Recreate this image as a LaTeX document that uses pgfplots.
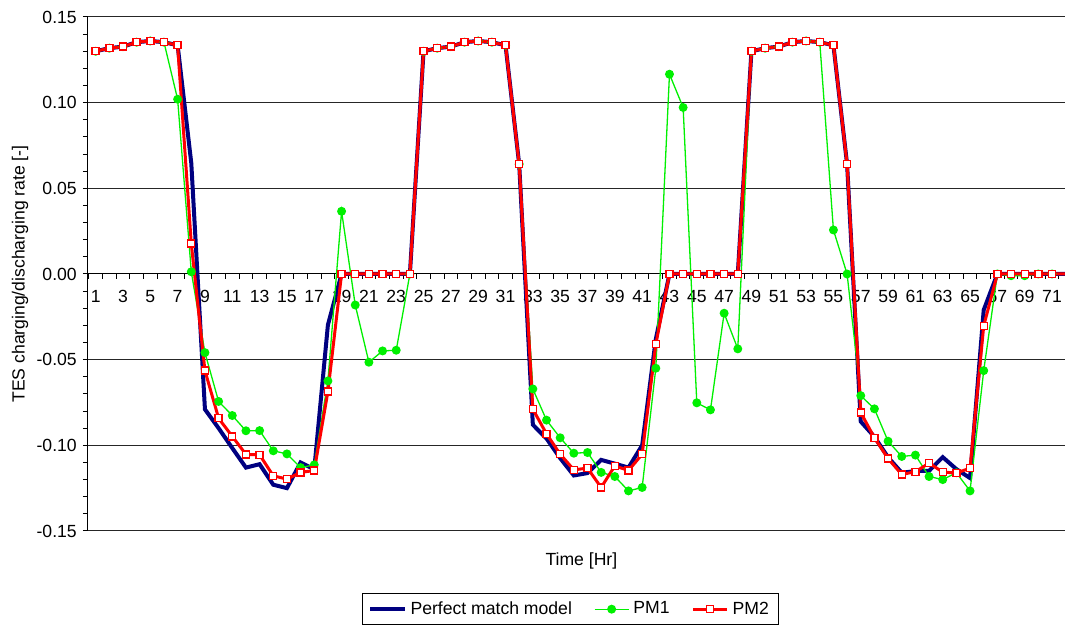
\documentclass[border=0pt]{standalone}
\usepackage{fontspec}
\setmainfont{Liberation Sans}
\usepackage{pgfplots}
\usepackage{pgfplotstable}
\pgfplotsset{compat=1.18}
\definecolor{navyc}{RGB}{0,0,128}
\definecolor{pmgreen}{RGB}{0,240,0}
\definecolor{pmred}{RGB}{255,0,0}

\pgfplotstableread{
x pm pm1 pm2
1 0.1300 0.1300 0.1300
2 0.1318 0.1318 0.1318
3 0.1327 0.1327 0.1327
4 0.1353 0.1353 0.1353
5 0.1360 0.1360 0.1360
6 0.1353 0.1353 0.1353
7 0.1335 0.1020 0.1335
8 0.0647 0.0013 0.0177
9 -0.0790 -0.0459 -0.0564
10 -0.0900 -0.0744 -0.0842
11 -0.1016 -0.0826 -0.0948
12 -0.1130 -0.0915 -0.1053
13 -0.1110 -0.0914 -0.1055
14 -0.1230 -0.1032 -0.1178
15 -0.1250 -0.1050 -0.1197
16 -0.1100 -0.1130 -0.1158
17 -0.1140 -0.1114 -0.1147
18 -0.0297 -0.0624 -0.0686
19 0 0.0366 0
20 0 -0.0181 0
21 0 -0.0515 0
22 0 -0.0449 0
23 0 -0.0445 0
24 0 0 0
25 0.1300 0.1300 0.1300
26 0.1318 0.1318 0.1318
27 0.1327 0.1327 0.1327
28 0.1353 0.1353 0.1353
29 0.1360 0.1360 0.1360
30 0.1353 0.1353 0.1353
31 0.1335 0.1335 0.1335
32 0.0641 0.0641 0.0641
33 -0.0880 -0.0671 -0.0789
34 -0.0960 -0.0853 -0.0933
35 -0.1075 -0.0956 -0.1052
36 -0.1176 -0.1046 -0.1143
37 -0.1162 -0.1042 -0.1133
38 -0.1085 -0.1158 -0.1246
39 -0.1107 -0.1182 -0.1120
40 -0.1130 -0.1266 -0.1147
41 -0.1000 -0.1246 -0.1052
42 -0.0380 -0.0550 -0.0410
43 0 0.1166 0
44 0 0.0972 0
45 0 -0.0752 0
46 0 -0.0793 0
47 0 -0.0229 0
48 0 -0.0437 0
49 0.1300 0.1300 0.1300
50 0.1318 0.1318 0.1318
51 0.1327 0.1327 0.1327
52 0.1353 0.1353 0.1353
53 0.1360 0.1360 0.1360
54 0.1353 0.1353 0.1353
55 0.1335 0.0257 0.1335
56 0.0641 0 0.0641
57 -0.0861 -0.0710 -0.0809
58 -0.0950 -0.0787 -0.0956
59 -0.1070 -0.0976 -0.1077
60 -0.1160 -0.1065 -0.1170
61 -0.1150 -0.1057 -0.1154
62 -0.1149 -0.1182 -0.1104
63 -0.1069 -0.1200 -0.1156
64 -0.1139 -0.1160 -0.1162
65 -0.1191 -0.1266 -0.1133
66 -0.0210 -0.0564 -0.0303
67 0 0 0
68 0 -0.001 0
69 0 -0.001 0
70 0 0 0
71 0 0 0
72 0 0 0
}\datatable

\begin{document}
\fontsize{8.8}{10.5}\selectfont
\begin{tikzpicture}
\begin{axis}[
  scale only axis, width=488.5pt, height=257pt,
  xmin=0.44, xmax=71.95, ymin=-0.15, ymax=0.15,
  axis x line=middle, axis y line=left,
  axis line style={-, black, line width=0.5pt},
  tick align=outside,
  major tick length=2.5pt, minor tick length=2.5pt,
  tick style={black, line width=0.5pt},
  xtick={1,3,...,71},
  minor xtick={0.5,1.5,...,71.5},
  every major x tick/.append style={draw=none},
  x tick label style={yshift=-2.5pt},
  ytick={-0.15,-0.1,-0.05,0,0.05,0.1,0.15},
  minor y tick num=4,
  ymajorgrids,
  major grid style={black!85, line width=0.5pt},
  yticklabel style={/pgf/number format/.cd, fixed, fixed zerofill, precision=2, assume math mode=true},
  xticklabel style={/pgf/number format/assume math mode=true},
  xlabel={Time [Hr]},
  xlabel style={at={(axis description cs:0.505,0)}, anchor=center, yshift=-15pt},
  ylabel={TES charging/discharging rate [-]},
  ylabel style={at={(axis description cs:-0.0696,0.5)}, anchor=center},
  legend columns=3,
  legend style={at={(0.494,-0.1206)}, anchor=north, draw=black, line width=0.5pt,
    inner xsep=3pt, inner ysep=2pt,
    /tikz/every even column/.append style={column sep=9pt}},
  legend cell align=left,
]
\addplot[navyc, line width=2pt, mark=none] table[x=x, y=pm] {\datatable};
\addlegendentry{Perfect match model}
\addplot[pmgreen, line width=0.65pt, mark=*, mark size=1.9pt, mark options={fill=pmgreen, draw=pmgreen}] table[x=x, y=pm1] {\datatable};
\addlegendentry{PM1}
\addplot[pmred, line width=1.5pt, mark=square*, mark size=1.75pt, mark options={fill=white, draw=pmred, line width=0.7pt}] table[x=x, y=pm2] {\datatable};
\addlegendentry{PM2}
\coordinate (ll) at (rel axis cs:0,0);
\coordinate (ur) at (rel axis cs:1,1);
\end{axis}
\pgfresetboundingbox
\path[use as bounding box] ([shift={(-44pt,-49.5pt)}]ll) rectangle ([shift={(0pt,8.5pt)}]ur);
\end{tikzpicture}
\end{document}
